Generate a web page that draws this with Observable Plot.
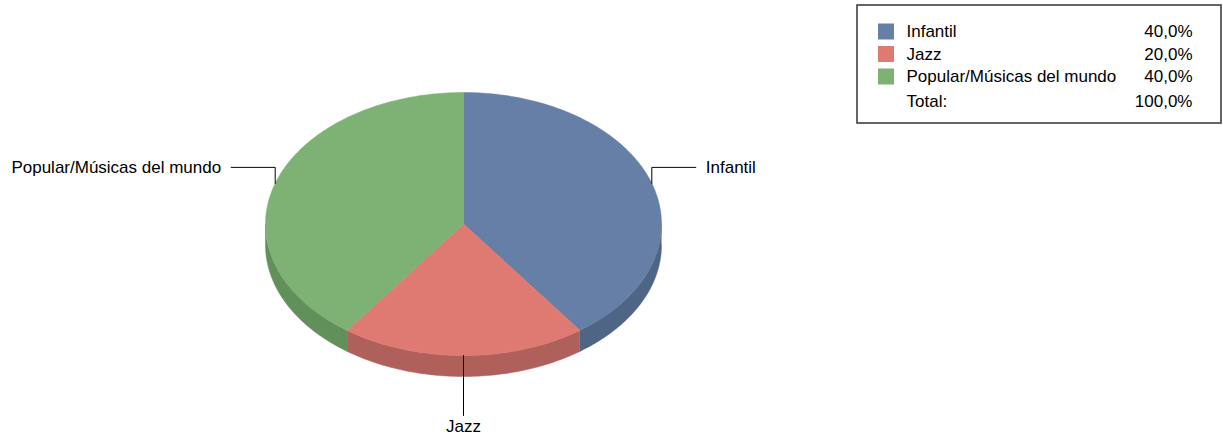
<!DOCTYPE html>
<html>
<head>
<meta charset="utf-8">
<script src="https://cdn.jsdelivr.net/npm/d3@7"></script>
<script src="https://cdn.jsdelivr.net/npm/@observablehq/plot@0.6"></script>
<style>
  html, body { margin: 0; padding: 0; background: #fff; }
  #chart svg { display: block; }
</style>
</head>
<body>
<div id="chart"></div>
<script>
// ---- data ----
const categories = ["Infantil", "Jazz", "Popular/Músicas del mundo"];
const values = [40, 20, 40];
const percentLabels = ["40,0%", "20,0%", "40,0%"];
const totalLabel = "Total:";
const totalValue = "100,0%";
const topColors = ["#657fa7", "#df7a73", "#7db274"];
const sideColors = ["#4f6586", "#b0605a", "#62905a"];

// ---- layout ----
const W = 1223, H = 437;
const cx = 463, cy = 223.5, rx = 198, ry = 131.5, depth = 21;
const FONT = "Liberation Sans, Arial, sans-serif";
const FS = 17;

const total = d3.sum(values);
const toRad = d => d * Math.PI / 180;
const px = (t) => cx + rx * Math.sin(t);
const py = (t, off = 0) => cy - ry * Math.cos(t) + off;

let acc = 0;
const slices = categories.map((c, i) => {
  const a0 = acc / total * 2 * Math.PI;
  acc += values[i];
  const a1 = acc / total * 2 * Math.PI;
  return {c, i, a0, a1, mid: (a0 + a1) / 2};
});

function arcPts(a0, a1, off = 0) {
  const n = Math.max(2, Math.ceil((a1 - a0) / toRad(1)));
  const pts = [];
  for (let k = 0; k <= n; k++) {
    const t = a0 + (a1 - a0) * k / n;
    pts.push([px(t), py(t, off)]);
  }
  return pts;
}

const topPts = [];
const sidePts = [];
for (const s of slices) {
  const poly = [[cx, cy], ...arcPts(s.a0, s.a1), [cx, cy]];
  poly.forEach(([x, y]) => topPts.push({x, y, key: s.c, fill: topColors[s.i]}));
  const s0 = Math.max(s.a0, Math.PI / 2), s1 = Math.min(s.a1, 3 * Math.PI / 2);
  if (s1 > s0) {
    const up = arcPts(s0, s1);
    const down = arcPts(s0, s1, depth).reverse();
    [...up, ...down].forEach(([x, y]) => sidePts.push({x, y, key: s.c, fill: sideColors[s.i]}));
  }
}

// leader lines
const leaderPts = [];
const labels = [];
for (const s of slices) {
  const ax = px(s.mid), ay = py(s.mid);
  if (Math.abs(Math.sin(s.mid)) < 0.2) {
    leaderPts.push({x: ax, y: ay, key: s.c}, {x: ax, y: ay + 60, key: s.c});
    labels.push({x: ax, y: ay + 71, text: s.c, anchor: "middle"});
  } else {
    const dir = Math.sin(s.mid) > 0 ? 1 : -1;
    const ey = ay - 16;
    leaderPts.push({x: ax, y: ay, key: s.c}, {x: ax, y: ey, key: s.c}, {x: ax + dir * 44, y: ey, key: s.c});
    labels.push({x: ax + dir * 54, y: ey, text: s.c, anchor: dir > 0 ? "start" : "end"});
  }
}
const labelMarks = ["start", "middle", "end"].map(a =>
  Plot.text(labels.filter(d => d.anchor === a), {x: "x", y: "y", text: "text", textAnchor: a, fill: "#000", fontSize: FS})
);

// legend
const LX = 857, LY = 5, LX2 = 1221, LY2 = 123;
const rowY = [31.5, 54, 76.5, 101.5];
const legendRows = categories.map((c, i) => ({c, pct: percentLabels[i], color: topColors[i], y: rowY[i]}));
const totalRow = [{t: totalLabel, v: totalValue, y: rowY[3]}];

const chart = Plot.plot({
  width: W, height: H,
  margin: 0,
  x: {domain: [0, W], range: [0, W], axis: null},
  y: {domain: [0, H], range: [0, H], axis: null},
  color: {type: "identity"},
  style: {fontFamily: FONT, fontSize: FS + "px", background: "#fff"},
  marks: [
    Plot.line(sidePts, {x: "x", y: "y", z: "key", fill: "fill", stroke: "fill", strokeWidth: 0.5, curve: "linear"}),
    Plot.line(topPts, {x: "x", y: "y", z: "key", fill: "fill", stroke: "fill", strokeWidth: 0.5, curve: "linear"}),
    Plot.line(leaderPts, {x: "x", y: "y", z: "key", stroke: "#000", strokeWidth: 1, curve: "linear"}),
    ...labelMarks,
    // legend frame
    Plot.rect([{x1: LX, x2: LX2, y1: LY, y2: LY2}], {x1: "x1", x2: "x2", y1: "y1", y2: "y2", fill: "#fff", stroke: "#333", strokeWidth: 1.5}),
    Plot.rect(legendRows, {x1: 878, x2: 894, y1: d => d.y - 8, y2: d => d.y + 8, fill: "color"}),
    Plot.text(legendRows, {x: 906, y: "y", text: "c", textAnchor: "start", fill: "#000", fontSize: FS}),
    Plot.text(legendRows, {x: 1192, y: "y", text: "pct", textAnchor: "end", fill: "#000", fontSize: FS}),
    Plot.text(totalRow, {x: 906, y: "y", text: "t", textAnchor: "start", fill: "#000", fontSize: FS}),
    Plot.text(totalRow, {x: 1192, y: "y", text: "v", textAnchor: "end", fill: "#000", fontSize: FS})
  ]
});
document.getElementById("chart").appendChild(chart);
</script>
</body>
</html>
